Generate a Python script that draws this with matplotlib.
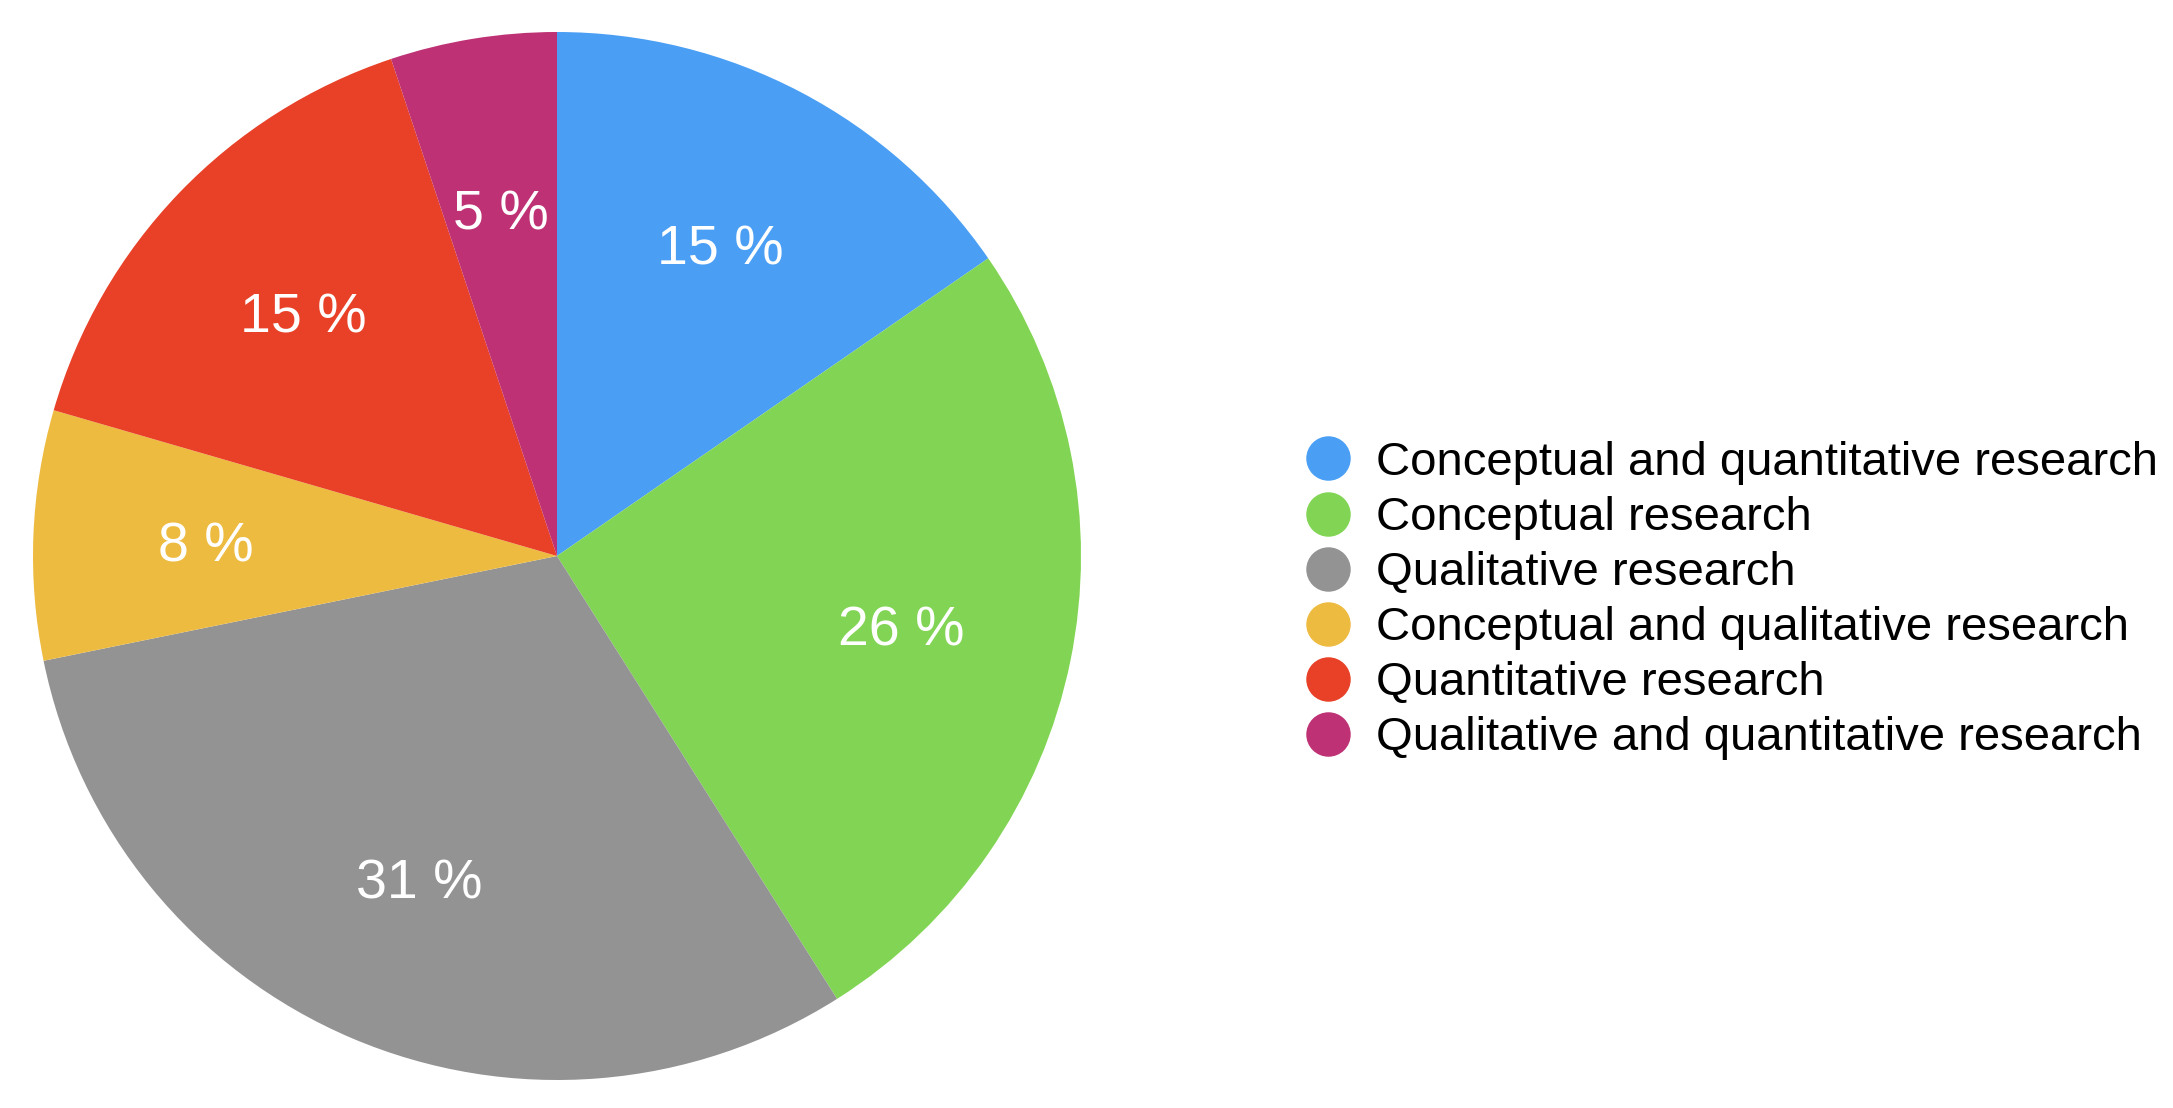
import matplotlib
matplotlib.use("Agg")
import matplotlib.pyplot as plt
import matplotlib.transforms as mtransforms
from matplotlib.lines import Line2D

plt.rcParams["font.family"] = ["Liberation Sans", "DejaVu Sans"]

# data: number of studies per research type (shares)
categories = [
    "Conceptual and quantitative research",
    "Conceptual research",
    "Qualitative research",
    "Conceptual and qualitative research",
    "Quantitative research",
    "Qualitative and quantitative research",
]
counts = [6, 10, 12, 3, 6, 2]
colors = ["#4A9FF5", "#82D554", "#939393", "#EEBB41", "#E84128", "#BE3174"]

W, H = 2173, 1108
fig = plt.figure(figsize=(W / 100, H / 100), dpi=100)
fig.patch.set_facecolor("white")

# pie centre ~(557, 556) px, radius ~524 px
cx, cy, r = 557, 556, 524
ax = fig.add_axes([(cx - r) / W, (H - cy - r) / H, 2 * r / W, 2 * r / H])
wedges, _, autotexts = ax.pie(
    counts, colors=colors, startangle=90, counterclock=False, radius=1.0,
    autopct=lambda p: f"{p:.0f} %", pctdistance=0.67,
    wedgeprops=dict(linewidth=0),
    textprops=dict(color="white", fontsize=40),
)
# labels sit a touch lower in the original
shift = mtransforms.offset_copy(ax.transData, fig=fig, x=0, y=-4, units="points")
for t in autotexts:
    t.set_transform(shift)
ax.set_xlim(-1, 1)
ax.set_ylim(-1, 1)
ax.set_aspect("auto")
ax.axis("off")

handles = [Line2D([], [], marker="o", ls="", ms=31, mfc=c, mec=c) for c in colors]
fig.legend(handles, categories, loc="upper left",
           bbox_to_anchor=(1304 / W, 1 - 441 / H), frameon=False,
           fontsize=34, handlelength=1.0, handletextpad=0.52,
           labelspacing=0.235, borderaxespad=0, borderpad=0)

fig.savefig("out.png", dpi=100, facecolor="white")
